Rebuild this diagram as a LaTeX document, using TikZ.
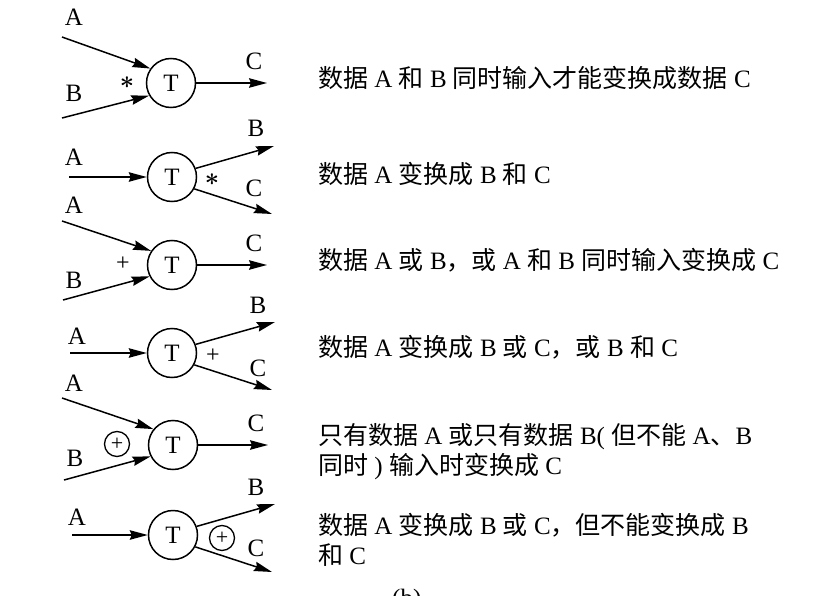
\documentclass[tikz,border=0pt]{standalone}
\usepackage{amsmath}
\usepackage{fontspec}
\setmainfont{Liberation Serif}
\newfontfamily\cjk{Noto Sans CJK SC}
\newcommand\zh[1]{{\cjk #1}}
\usetikzlibrary{arrows.meta}
\tikzset{
  proc/.style={circle, draw, line width=1.5pt, minimum size=49pt, inner sep=0pt, font=\fontsize{25}{25}\selectfont},
  lbl/.style={inner sep=0pt, font=\fontsize{25}{25}\selectfont},
  sym/.style={inner sep=0pt, font=\fontsize{24}{24}\selectfont},
  xorsym/.style={circle, draw, line width=1.3pt, minimum size=25pt, inner sep=0pt, font=\fontsize{22}{22}\selectfont},
  flow/.style={line width=1.5pt, -{Stealth[length=18pt,width=9.5pt,inset=2pt]}},
  desc/.style={anchor=base west, inner sep=0pt, font=\fontsize{25}{25}\selectfont},
}
\begin{document}
\begin{tikzpicture}[x=1pt,y=-1pt]
\useasboundingbox[fill=white] (0,0) rectangle (840,596);

% ---------- Row 1 : A * B -> C
\node[proc] (t1) at (171,83) {T};
\coordinate (a1) at (62,37);
\coordinate (b1) at (62,118);
\coordinate (c1) at (267,83);
\draw[flow] (a1) -- (t1.145);
\draw[flow] (b1) -- (t1.210);
\draw[flow] (t1.east) -- (c1);
\node[lbl] (la1) at (74,17) {A};
\node[lbl] (lb1) at (74,93) {B};
\node[lbl] (lc1) at (254,61) {C};
\node[sym] (s1) at (127,83) {$\boldsymbol{\ast}$};

% ---------- Row 2 : A -> B * C
\node[proc] (t2) at (172,177) {T};
\coordinate (a2) at (69,177);
\coordinate (b2) at (274,146);
\coordinate (c2) at (272,214);
\draw[flow] (a2) -- (t2.west);
\draw[flow] (t2.20) -- (b2);
\draw[flow] (t2.-28) -- (c2);
\node[lbl] (la2) at (74,157) {A};
\node[lbl] (lb2) at (256,128) {B};
\node[lbl] (lc2) at (254,188) {C};
\node[sym] (s2) at (212,180) {$\boldsymbol{\ast}$};

% ---------- Row 3 : A + B -> C
\node[proc] (t3) at (172,265) {T};
\coordinate (a3) at (62,221);
\coordinate (b3) at (63,300);
\coordinate (c3) at (267,265);
\draw[flow] (a3) -- (t3.146);
\draw[flow] (b3) -- (t3.207);
\draw[flow] (t3.east) -- (c3);
\node[lbl] (la3) at (74,205) {A};
\node[lbl] (lb3) at (74,280) {B};
\node[lbl] (lc3) at (254,243) {C};
\node[sym] (s3) at (123,264) {+};

% ---------- Row 4 : A -> B + C
\node[proc] (t4) at (172,353) {T};
\coordinate (a4) at (70,353);
\coordinate (b4) at (275,322);
\coordinate (c4) at (272,390);
\draw[flow] (a4) -- (t4.west);
\draw[flow] (t4.20) -- (b4);
\draw[flow] (t4.-28) -- (c4);
\node[lbl] (la4) at (77,336) {A};
\node[lbl] (lb4) at (258,305) {B};
\node[lbl] (lc4) at (258,368) {C};
\node[sym] (s4) at (213,356) {+};

% ---------- Row 5 : A (+) B -> C
\node[proc] (t5) at (173,445) {T};
\coordinate (a5) at (62,398);
\coordinate (b5) at (64,480);
\coordinate (c5) at (268,445);
\draw[flow] (a5) -- (t5.141);
\draw[flow] (b5) -- (t5.207);
\draw[flow] (t5.east) -- (c5);
\node[lbl] (la5) at (74,383) {A};
\node[lbl] (lb5) at (75,458) {B};
\node[lbl] (lc5) at (256,423) {C};
\node[xorsym] (x5) at (117,444) {+};

% ---------- Row 6 : A -> B (+) C
\node[proc] (t6) at (173,535) {T};
\coordinate (a6) at (72,535);
\coordinate (b6) at (275,504);
\coordinate (c6) at (272,572);
\draw[flow] (a6) -- (t6.west);
\draw[flow] (t6.20) -- (b6);
\draw[flow] (t6.-28) -- (c6);
\node[lbl] (la6) at (77,517) {A};
\node[lbl] (lb6) at (256,487) {B};
\node[lbl] (lc6) at (256,548) {C};
\node[xorsym] (x6) at (222,538) {+};

% ---------- Descriptions
\node[desc] (d1) at (318,88) {\zh{数据} A \zh{和} B \zh{同时输入才能变换成数据} C};
\node[desc] (d2) at (318,183) {\zh{数据} A \zh{变换成} B \zh{和} C};
\node[desc] (d3) at (318,269) {\zh{数据} A \zh{或} B\zh{，或} A \zh{和} B \zh{同时输入变换成} C};
\node[desc] (d4) at (318,356) {\zh{数据} A \zh{变换成} B \zh{或} C\zh{，或} B \zh{和} C};
\node[desc] (d5a) at (318,444) {\zh{只有数据} A \zh{或只有数据} B( \zh{但不能} A\zh{、}B};
\node[desc] (d5b) at (318,474) {\zh{同时} ) \zh{输入时变换成} C};
\node[desc] (d6a) at (318,534) {\zh{数据} A \zh{变换成} B \zh{或} C\zh{，但不能变换成} B};
\node[desc] (d6b) at (318,564) {\zh{和} C};
\node[desc] (cap) at (392,606) {(b)};
\end{tikzpicture}
\end{document}
